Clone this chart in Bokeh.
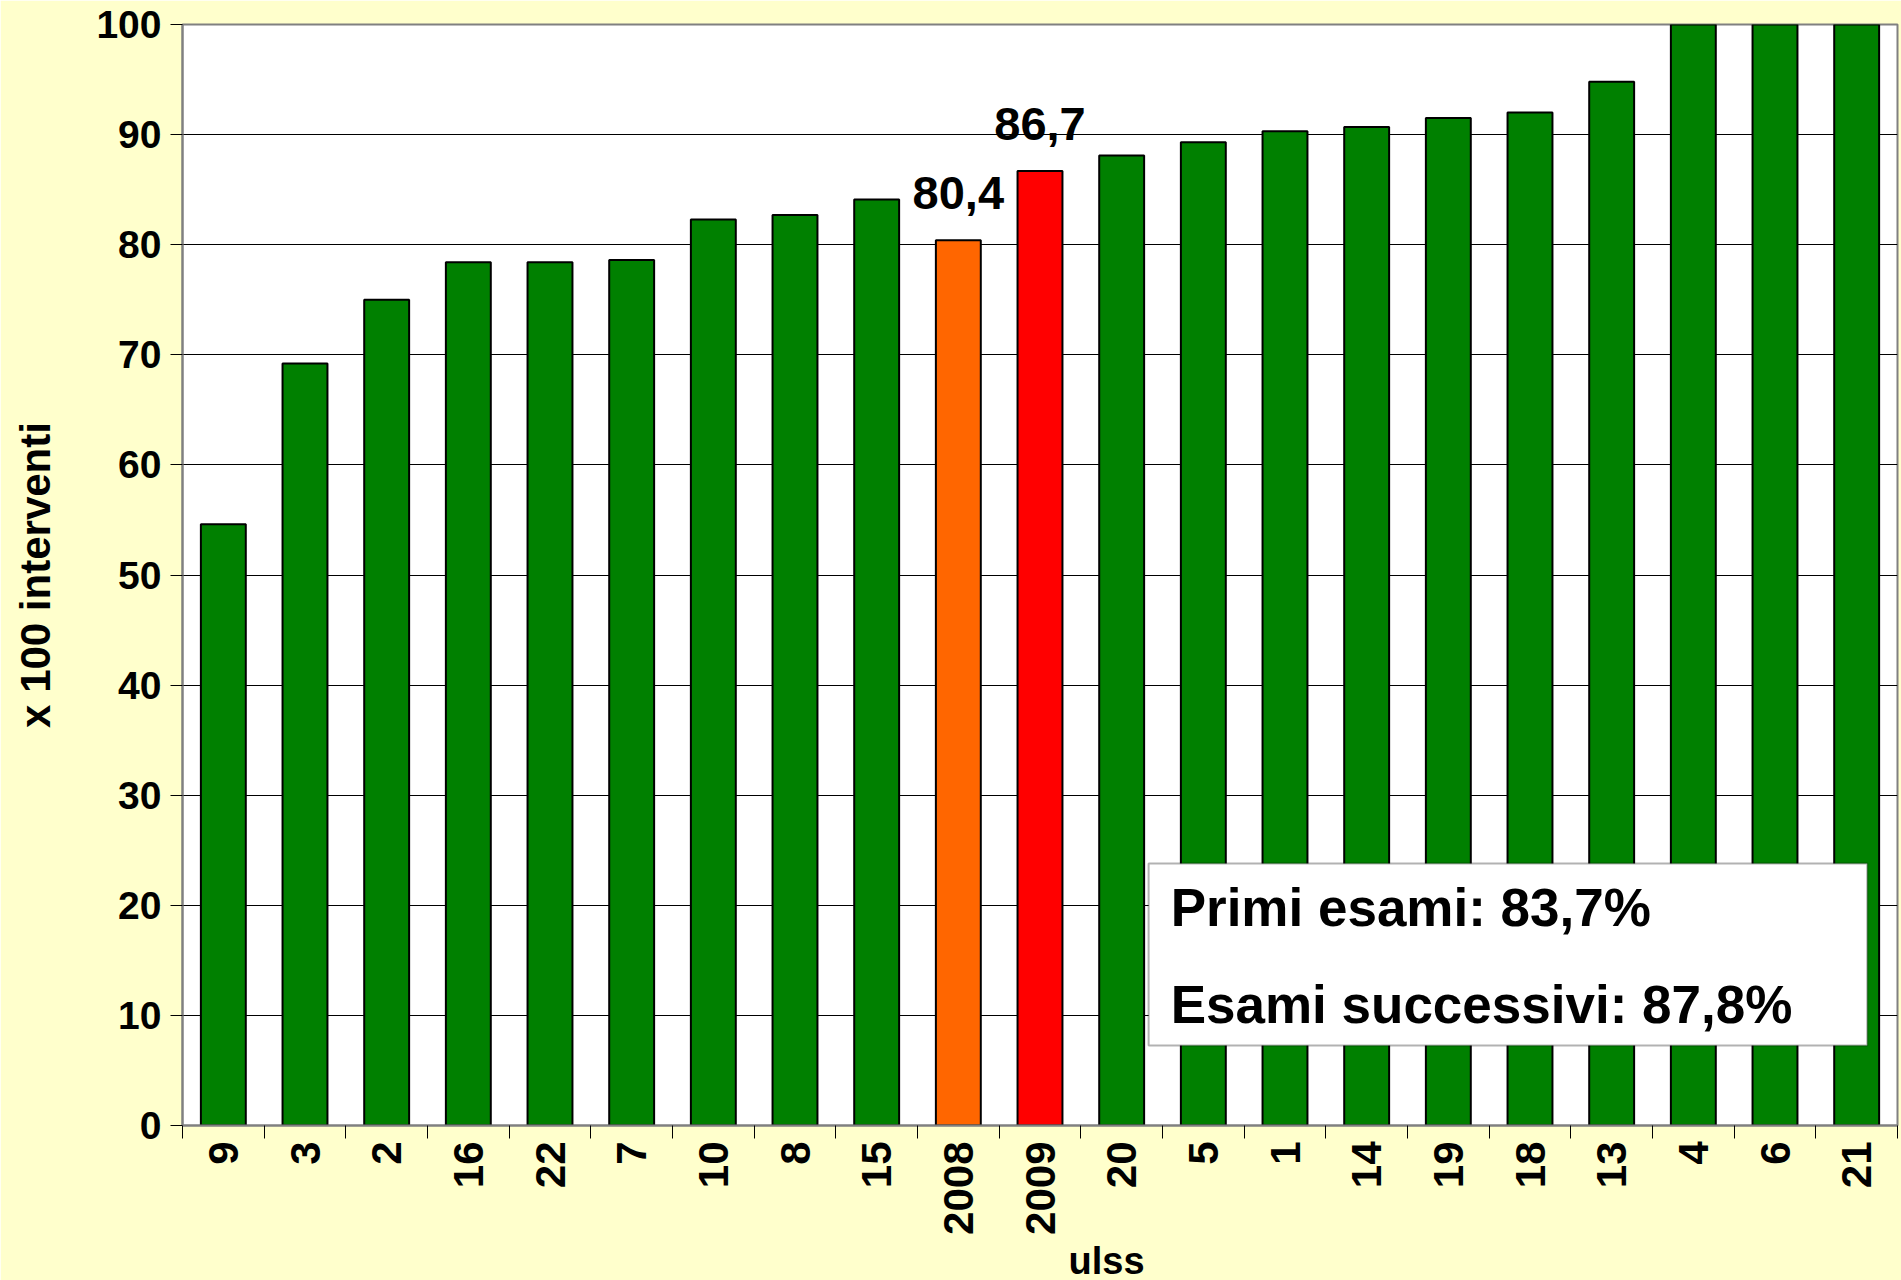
from math import pi
from bokeh.plotting import figure
from bokeh.models import FixedTicker, BoxAnnotation, Label, Range1d, ColumnDataSource, Title
from bokeh.core.properties import value
from bokeh.embed import file_html
from bokeh.resources import INLINE

# ---- data ----
ulss = ["9", "3", "2", "16", "22", "7", "10", "8", "15", "2008", "2009",
        "20", "5", "1", "14", "19", "18", "13", "4", "6", "21"]
interventi = [54.6, 69.2, 75.0, 78.4, 78.4, 78.6, 82.3, 82.7, 84.1, 80.4, 86.7,
              88.1, 89.3, 90.3, 90.7, 91.5, 92.0, 94.8, 100, 100, 100]
highlight = ["2008", "2009"]
highlight_labels = ["80,4", "86,7"]
y_ticks = [0, 10, 20, 30, 40, 50, 60, 70, 80, 90, 100]
summary_lines = ["Primi esami: 83,7%", "Esami successivi: 87,8%"]
x_title = "ulss"
y_title = "x 100 interventi"

# ---- styles ----
GREEN = "#008000"
HIGHLIGHT_COLORS = {"2008": "#FF6600", "2009": "#FF0000"}
FONT = value("Liberation Sans")

n = len(ulss)
centers = [i + 0.5 for i in range(n)]
colors = [HIGHLIGHT_COLORS.get(u, GREEN) for u in ulss]
src = ColumnDataSource(dict(x=centers, top=interventi, color=colors, name=ulss))

p = figure(x_range=Range1d(0, n), y_range=Range1d(0, 100),
           frame_width=1715, frame_height=1101,
           min_border_left=182, min_border_top=24, min_border_right=4, min_border_bottom=155,
           output_backend="svg", toolbar_location=None,
           background_fill_color="white", border_fill_color="#FFFFCC")
p.outline_line_color = "#808080"
p.outline_line_width = 2

p.vbar(x="x", top="top", width=0.55, fill_color="color", line_color="black",
       line_width=2, source=src)

# grid
p.xgrid.visible = False
p.ygrid.ticker = FixedTicker(ticks=y_ticks)
p.ygrid.grid_line_color = "black"
p.ygrid.grid_line_width = 1

# y axis
ya = p.yaxis[0]
ya.ticker = FixedTicker(ticks=y_ticks)
ya.major_tick_out = 12
ya.major_tick_in = 0
ya.minor_tick_out = 0
ya.minor_tick_in = 0
ya.major_tick_line_color = "black"
ya.axis_line_color = "#808080"
ya.axis_line_width = 2
ya.major_label_text_font = "Liberation Sans"
ya.major_label_text_font_style = "bold"
ya.major_label_text_font_size = "39px"
ya.major_label_text_color = "black"
ya.major_label_standoff = 9
ya.axis_label = y_title
ya.axis_label_text_font = "Liberation Sans"
ya.axis_label_text_font_style = "bold"
ya.axis_label_text_font_size = "42px"
ya.axis_label_text_color = "black"
ya.axis_label_standoff = 34

# x axis: labels at centres, ticks between categories
xa = p.xaxis[0]
xa.ticker = FixedTicker(ticks=centers, minor_ticks=list(range(n + 1)))
xa.major_label_overrides = {c: u for c, u in zip(centers, ulss)}
xa.major_tick_out = 0
xa.major_tick_in = 0
xa.minor_tick_out = 13
xa.minor_tick_in = 0
xa.minor_tick_line_color = "black"
xa.axis_line_color = "#808080"
xa.axis_line_width = 2
xa.major_label_orientation = pi / 2
xa.major_label_text_font = "Liberation Sans"
xa.major_label_text_font_style = "bold"
xa.major_label_text_font_size = "42px"
xa.major_label_text_color = "black"
xa.major_label_standoff = 3

# x title below the tick labels, shifted right as in the original
p.add_layout(Title(text=x_title, align="left", offset=886, standoff=0,
                   text_font="Liberation Sans", text_font_style="bold",
                   text_font_size="38px", text_color="black"), "below")

# value labels on highlighted bars
hx = [centers[ulss.index(h)] for h in highlight]
hy = [interventi[ulss.index(h)] for h in highlight]
p.text(x=hx, y=hy, text=highlight_labels, text_align="center", text_baseline="alphabetic",
       y_offset=-47, text_font=FONT, text_font_style="bold", text_font_size="47px",
       text_color="black")

# summary box
box = BoxAnnotation(left=11.83, right=20.63, bottom=7.27, top=23.8,
                    fill_color="white", fill_alpha=1.0, line_color="black", line_width=2)
p.add_layout(box)
for txt, yy in zip(summary_lines, [19.8, 11.0]):
    p.add_layout(Label(x=12.1, y=yy, text=txt, text_font="Liberation Sans",
                       text_font_style="bold", text_font_size="53px",
                       text_baseline="alphabetic", text_color="black"))

open("out.html", "w").write(file_html(p, INLINE))
